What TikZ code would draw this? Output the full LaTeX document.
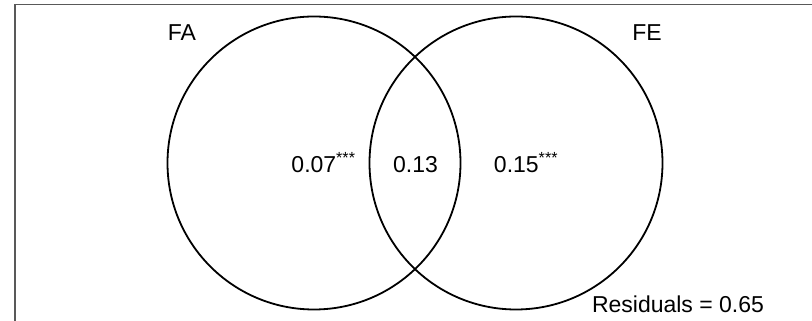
\documentclass[tikz,border=0pt]{standalone}
\usepackage{fontspec}
\setmainfont{Liberation Sans}
\usetikzlibrary{positioning}
\tikzset{
  cerc/.style     = {draw, circle, line width=1.8pt, minimum size=293pt, inner sep=0pt},
  eticheta/.style = {font=\fontsize{23}{27}\selectfont, inner sep=0pt, anchor=base},
  valoare/.style  = {eticheta},
  rama/.style     = {draw=black!65, line width=1.6pt}
}
\begin{document}
\begin{tikzpicture}[x=1pt, y=1pt]
    \useasboundingbox (0,0) rectangle (812,321);
    \draw[rama] (15,0) |- (812,316.5);

    \node[cerc] (fa) at (314,158) {};
    \node[cerc] (fe) at (516,158) {};

    \node[eticheta] (lfa) at (182,280) {FA};
    \node[eticheta] (lfe) at (647,280) {FE};

    \node[valoare] (vfa) at (323.5,148) {0.07\textsuperscript{***}};
    \node[valoare] (vcomun) at (415.5,148) {0.13};
    \node[valoare] (vfe) at (526,148) {0.15\textsuperscript{***}};

    \node[eticheta] (rez) at (678,8) {Residuals = 0.65};
\end{tikzpicture}
\end{document}
